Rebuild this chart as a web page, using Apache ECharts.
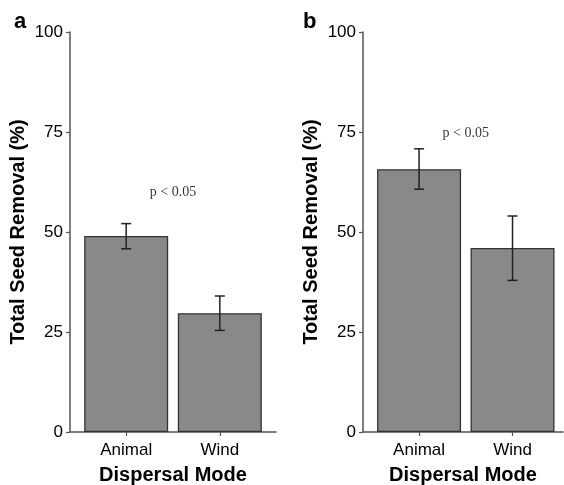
<!DOCTYPE html>
<html>
<head>
<meta charset="utf-8">
<script src="https://cdn.jsdelivr.net/npm/echarts@6/dist/echarts.min.js"></script>
<style>html,body{margin:0;padding:0;background:#fff;}#c{width:564px;height:485px;}</style>
</head>
<body>
<div id="c"></div>
<script>
// ---- data ----
var categories = ['Animal', 'Wind'];
var catPos = [1, 2];
var removalA = [49.0, 29.7];
var errLowA = [45.8, 25.4];
var errHighA = [52.1, 34.0];
var removalB = [65.7, 46.0];
var errLowB = [60.7, 37.9];
var errHighB = [70.8, 54.0];
var pText = 'p < 0.05';
var pPosA = [1.5, 60];
var pPosB = [1.5, 74.6];
var yMin = 0, yMax = 100, yStep = 25;

var SANS = 'Liberation Sans, Arial, sans-serif';
var SERIF = 'Liberation Serif, Times New Roman, serif';

function xAxisCfg(gi, max) {
  return {
    type: 'value', gridIndex: gi, min: 0.4, max: max,
    splitLine: {show: false},
    axisLine: {show: true, lineStyle: {color: '#555', width: 1.5}},
    axisTick: {show: true, customValues: catPos, length: 4, lineStyle: {color: '#555', width: 1.2}},
    axisLabel: {
      show: true, customValues: catPos, margin: 10,
      fontFamily: SANS, fontSize: 17, color: '#000',
      formatter: function (v) { var i = catPos.indexOf(v); return i >= 0 ? categories[i] : ''; }
    },
    name: 'Dispersal Mode', nameLocation: 'middle', nameGap: 33,
    nameTextStyle: {fontFamily: SANS, fontSize: 20, fontWeight: 'bold', color: '#000'}
  };
}
function yAxisCfg(gi) {
  return {
    type: 'value', gridIndex: gi, min: yMin, max: yMax, interval: yStep,
    splitLine: {show: false},
    axisLine: {show: true, lineStyle: {color: '#555', width: 1.5}},
    axisTick: {show: true, length: 4, lineStyle: {color: '#555', width: 1.2}},
    axisLabel: {margin: 7, fontFamily: SANS, fontSize: 17, color: '#000'},
    name: 'Total Seed Removal (%)', nameLocation: 'middle', nameRotate: 90, nameGap: 42,
    nameTextStyle: {fontFamily: SANS, fontSize: 20, fontWeight: 'bold', color: '#000'}
  };
}
function barData(vals) { return vals.map(function (v, i) { return [catPos[i], v]; }); }
function errData(lo, hi) { return lo.map(function (l, i) { return [catPos[i], l, hi[i]]; }); }
function errSeries(gi, lo, hi) {
  return {
    type: 'custom', xAxisIndex: gi, yAxisIndex: gi, z: 5,
    data: errData(lo, hi),
    renderItem: function (params, api) {
      var x = api.value(0);
      var p1 = api.coord([x, api.value(1)]);
      var p2 = api.coord([x, api.value(2)]);
      var hw = 5;
      var st = {stroke: '#222', lineWidth: 1.5, fill: null};
      return {type: 'group', children: [
        {type: 'line', shape: {x1: p1[0], y1: p1[1], x2: p2[0], y2: p2[1]}, style: st},
        {type: 'line', shape: {x1: p1[0] - hw, y1: p1[1], x2: p1[0] + hw, y2: p1[1]}, style: st},
        {type: 'line', shape: {x1: p2[0] - hw, y1: p2[1], x2: p2[0] + hw, y2: p2[1]}, style: st}
      ]};
    }
  };
}
function barSeries(gi, vals) {
  return {
    type: 'bar', xAxisIndex: gi, yAxisIndex: gi, barWidth: 84,
    data: barData(vals),
    itemStyle: {color: '#898989', borderColor: '#333', borderWidth: 1.3}
  };
}
function pSeries(gi, pos) {
  return {
    type: 'scatter', xAxisIndex: gi, yAxisIndex: gi, symbolSize: 1, z: 6,
    itemStyle: {color: 'rgba(0,0,0,0)'},
    data: [pos],
    label: {show: true, position: 'inside', formatter: pText, fontFamily: SERIF, fontSize: 14, color: '#000'}
  };
}

var chart = echarts.init(document.getElementById('c'), null, {renderer: 'canvas'});
chart.setOption({
  backgroundColor: '#fff',
  animation: false,
  title: [
    {text: 'a', left: 14, top: 11, padding: 0, textStyle: {fontFamily: SANS, fontSize: 22, fontWeight: 'bold', color: '#000'}},
    {text: 'b', left: 303, top: 11, padding: 0, textStyle: {fontFamily: SANS, fontSize: 22, fontWeight: 'bold', color: '#000'}}
  ],
  grid: [
    {left: 70, top: 32, width: 206, height: 400, containLabel: false, outerBoundsMode: 'none'},
    {left: 363, top: 32, width: 200, height: 400, containLabel: false, outerBoundsMode: 'none'}
  ],
  xAxis: [xAxisCfg(0, 2.6), xAxisCfg(1, 2.54)],
  yAxis: [yAxisCfg(0), yAxisCfg(1)],
  series: [
    barSeries(0, removalA), errSeries(0, errLowA, errHighA), pSeries(0, pPosA),
    barSeries(1, removalB), errSeries(1, errLowB, errHighB), pSeries(1, pPosB)
  ]
});
</script>
</body>
</html>
